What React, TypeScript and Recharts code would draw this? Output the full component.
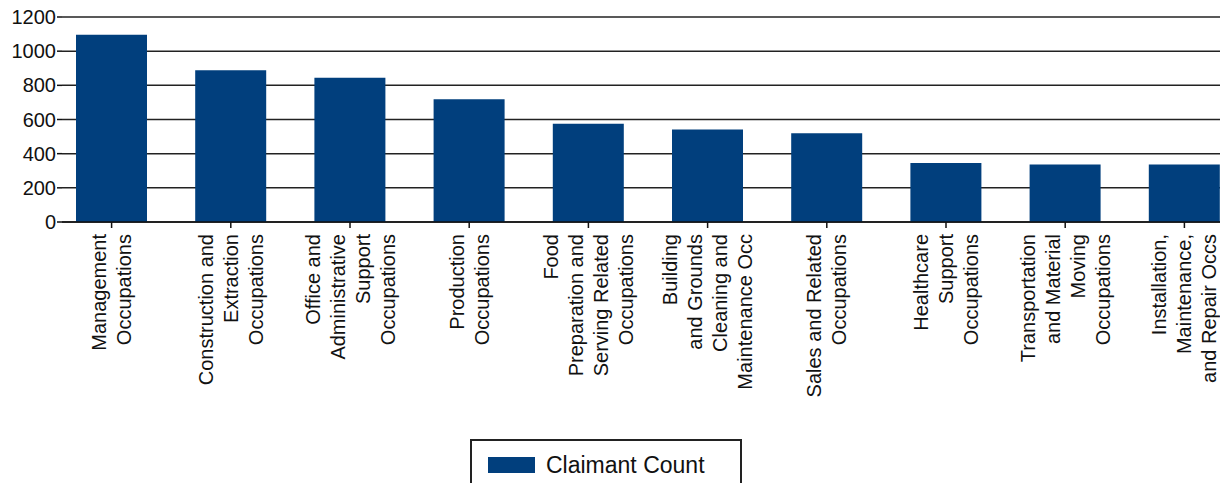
import React from "react";
import { BarChart, Bar, XAxis, YAxis, CartesianGrid, Legend } from "recharts";

const categories: string[] = [
  "Management Occupations",
  "Construction and Extraction Occupations",
  "Office and Administrative Support Occupations",
  "Production Occupations",
  "Food Preparation and Serving Related Occupations",
  "Building and Grounds Cleaning and Maintenance Occ",
  "Sales and Related Occupations",
  "Healthcare Support Occupations",
  "Transportation and Material Moving Occupations",
  "Installation, Maintenance, and Repair Occs",
];

const tickLabelLines: string[][] = [
  ["Management", "Occupations"],
  ["Construction and", "Extraction", "Occupations"],
  ["Office and", "Administrative", "Support", "Occupations"],
  ["Production", "Occupations"],
  ["Food", "Preparation and", "Serving Related", "Occupations"],
  ["Building", "and Grounds", "Cleaning and", "Maintenance Occ"],
  ["Sales and Related", "Occupations"],
  ["Healthcare", "Support", "Occupations"],
  ["Transportation", "and Material", "Moving", "Occupations"],
  ["Installation,", "Maintenance,", "and Repair Occs"],
];

const claimantCount: number[] = [1096, 889, 845, 718, 575, 542, 519, 346, 337, 337];

const yTicks: number[] = [0, 200, 400, 600, 800, 1000, 1200];

const seriesName = "Claimant Count";
const barColor = "#013F7D";
const FONT = "'Liberation Sans', Arial, sans-serif";

const data = categories.map((c, i) => ({ category: c, value: claimantCount[i] }));

const XTick = (props: any) => {
  const { x, y, payload } = props;
  const idx = categories.indexOf(payload.value);
  const lines = tickLabelLines[idx] || [String(payload.value)];
  const n = lines.length;
  const spacing = 25;
  const ty = y + 4;
  return (
    <g>
      {lines.map((line, i) => {
        const tx = x + 7 + (i - (n - 1) / 2) * spacing;
        return (
          <text
            key={i}
            x={tx}
            y={ty}
            transform={`rotate(-90 ${tx} ${ty})`}
            textAnchor="end"
            fontFamily={FONT}
            fontSize={20}
            fill="#111"
          >
            {line}
          </text>
        );
      })}
    </g>
  );
};

const YTick = (props: any) => {
  const { x, y, payload } = props;
  return (
    <text
      x={x}
      y={y}
      textAnchor="end"
      dominantBaseline="central"
      fontFamily={FONT}
      fontSize={20}
      fill="#111"
    >
      {payload.value}
    </text>
  );
};

const LegendBox = () => (
  <div
    style={{
      boxSizing: "border-box",
      width: 272,
      height: 52,
      border: "2px solid #222",
      display: "flex",
      alignItems: "center",
      paddingLeft: 16,
      background: "#fff",
    }}
  >
    <div style={{ width: 47, height: 16, background: barColor }} />
    <span
      style={{
        marginLeft: 11,
        fontFamily: FONT,
        fontSize: 23,
        color: "#111",
        lineHeight: "23px",
      }}
    >
      {seriesName}
    </span>
  </div>
);

export default function App() {
  return (
    <div
      style={{
        position: "absolute",
        left: 0,
        top: 0,
        width: 1220,
        height: 483,
        overflow: "hidden",
        background: "#fff",
      }}
    >
      <BarChart
        width={1260}
        height={483}
        data={data}
        margin={{ top: 17, right: 0, bottom: 0, left: 0 }}
      >
        <CartesianGrid
          vertical={false}
          horizontal={true}
          stroke="#222"
          strokeWidth={1.5}
        />
        <XAxis
          dataKey="category"
          type="category"
          interval={0}
          height={261}
          padding={{ left: -10, right: 16 }}
          axisLine={{ stroke: "#111", strokeWidth: 1.5 }}
          tickLine={{ stroke: "#111", strokeWidth: 1.5 }}
          tickSize={6}
          tick={<XTick />}
        />
        <YAxis
          type="number"
          domain={[0, 1200]}
          ticks={yTicks}
          width={62}
          axisLine={false}
          tickLine={{ stroke: "#111", strokeWidth: 1.5 }}
          tickSize={5}
          tickMargin={1}
          tick={<YTick />}
          interval={0}
        />
        <Legend
          layout="horizontal"
          verticalAlign="middle"
          align="center"
          wrapperStyle={{ left: 470, top: 439, width: 272, height: 52 }}
          content={() => <LegendBox />}
        />
        <Bar
          dataKey="value"
          name={seriesName}
          fill={barColor}
          barSize={71}
          isAnimationActive={false}
        />
      </BarChart>
    </div>
  );
}
